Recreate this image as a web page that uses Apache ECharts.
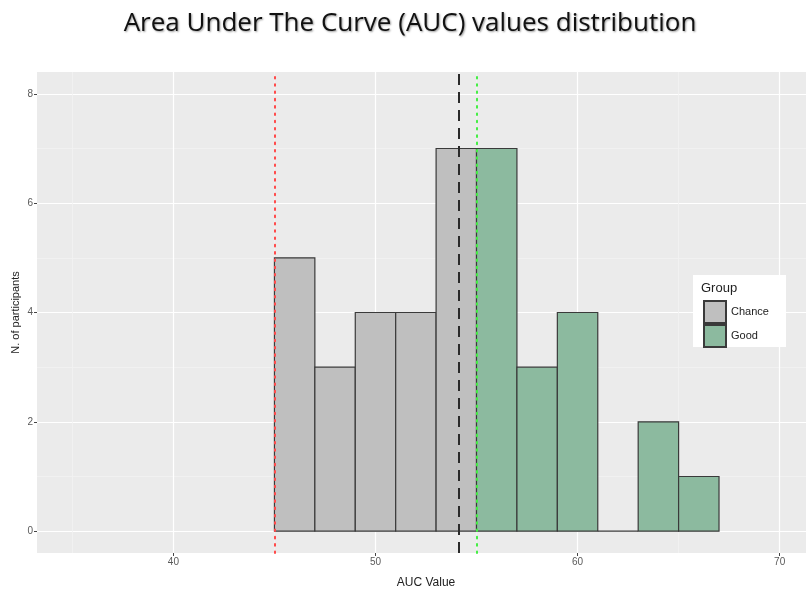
<!DOCTYPE html>
<html><head><meta charset="utf-8">
<script src="https://cdn.jsdelivr.net/npm/echarts@6/dist/echarts.min.js"></script>
<style>html,body{margin:0;padding:0;background:#fff}#c{width:806px;height:590px}</style>
</head><body><div id="c"></div>
<script>
const titleText = 'Area Under The Curve (AUC) values distribution';
const xName = 'AUC Value';
const yName = 'N. of participants';
const legendTitle = 'Group';
const groupNames = ['Chance', 'Good'];
const binWidth = 2;
const chanceBins = [45, 47, 49, 51, 53];
const chanceCounts = [5, 3, 4, 4, 7];
const goodBins = [55, 57, 59, 61, 63, 65];
const goodCounts = [7, 3, 4, 0, 2, 1];
const xTicks = [40, 50, 60, 70];
const xMinorTicks = [35, 45, 55, 65];
const yTicks = [0, 2, 4, 6, 8];
const yMinorTicks = [1, 3, 5, 7];
const chanceLine = 45;
const meanLine = 54.13;
const goodLine = 55;

const chanceColor = '#bfbfbf';
const goodColor = '#8cba9f';
const barStroke = '#3a3a3a';

function makeRender(color) {
  return function (params, api) {
    const x0 = api.value(0), h = api.value(1);
    const p0 = api.coord([x0, h]);
    const p1 = api.coord([x0 + binWidth, 0]);
    return {
      type: 'rect',
      shape: { x: p0[0], y: p0[1], width: p1[0] - p0[0], height: p1[1] - p0[1] },
      style: { fill: color, stroke: barStroke, lineWidth: 1.2 }
    };
  };
}

const chart = echarts.init(document.getElementById('c'), null, { renderer: 'canvas' });
const labelStyle = { color: '#5a5a5a', fontSize: 10, fontFamily: 'Liberation Sans' };
chart.setOption({
  animation: false,
  backgroundColor: '#ffffff',
  grid: { left: 37, top: 72, right: -9, bottom: 37, show: true, backgroundColor: '#ebebeb', borderWidth: 0, outerBoundsMode: 'none', containLabel: false },
  xAxis: [{
    type: 'value', min: 33.25, max: 71.75,
    axisLine: { show: false, onZero: false },
    axisTick: { show: true, length: 3, lineStyle: { color: '#444' }, customValues: xTicks },
    axisLabel: { ...labelStyle, margin: 4, customValues: xTicks },
    splitLine: { show: true, lineStyle: { color: '#ffffff', width: 1.2 } },
    name: xName, nameLocation: 'middle', nameGap: 24,
    nameTextStyle: { fontSize: 12, color: '#222', fontFamily: 'Liberation Sans' }
  }, {
    type: 'value', min: 33.25, max: 71.75, position: 'bottom',
    axisLine: { show: false, onZero: false },
    axisTick: { show: false, customValues: xMinorTicks },
    axisLabel: { show: false, customValues: xMinorTicks },
    splitLine: { show: true, lineStyle: { color: '#f3f3f3', width: 0.8 } }
  }],
  yAxis: [{
    type: 'value', min: -0.4, max: 8.4,
    axisLine: { show: false, onZero: false },
    axisTick: { show: true, length: 3, lineStyle: { color: '#444' }, customValues: yTicks },
    axisLabel: { ...labelStyle, margin: 4, customValues: yTicks },
    splitLine: { show: true, lineStyle: { color: '#ffffff', width: 1.2 } },
    name: yName, nameLocation: 'middle', nameGap: 16, nameRotate: 90, nameMoveOverlap: false,
    nameTextStyle: { fontSize: 11, color: '#222', fontFamily: 'Liberation Sans' }
  }, {
    type: 'value', min: -0.4, max: 8.4, position: 'left',
    axisLine: { show: false, onZero: false },
    axisTick: { show: false, customValues: yMinorTicks },
    axisLabel: { show: false, customValues: yMinorTicks },
    splitLine: { show: true, lineStyle: { color: '#f3f3f3', width: 0.8 } }
  }],
  legend: {
    orient: 'vertical', left: 703, top: 300, itemWidth: 22, itemHeight: 22, itemGap: 0,
    padding: 0, icon: 'rect', z: 6,
    textStyle: { fontSize: 11, color: '#222', fontFamily: 'Liberation Sans' },
    data: groupNames
  },
  graphic: [
    { type: 'rect', z: 5, shape: { x: 693, y: 275, width: 93, height: 72 }, style: { fill: '#ffffff' } },
    { type: 'text', z: 6, x: 701, y: 288, style: { text: legendTitle, fontSize: 13, fill: '#222', fontFamily: 'Liberation Sans', verticalAlign: 'middle' } },
    { type: 'text', z: 6, x: 410, y: 24, style: { text: titleText, fontSize: 26, fill: '#111', fontFamily: 'Open Sans', align: 'center', verticalAlign: 'middle', textShadowColor: 'rgba(0,0,0,0.4)', textShadowBlur: 2, textShadowOffsetX: 1, textShadowOffsetY: 1 } }
  ],
  series: [{
    name: groupNames[0], type: 'custom', xAxisIndex: 0, yAxisIndex: 0, z: 2,
    itemStyle: { color: chanceColor, borderColor: barStroke, borderWidth: 1.5 },
    renderItem: makeRender(chanceColor),
    data: chanceBins.map((b, i) => [b, chanceCounts[i]])
  }, {
    name: groupNames[1], type: 'custom', xAxisIndex: 0, yAxisIndex: 0, z: 2,
    itemStyle: { color: goodColor, borderColor: barStroke, borderWidth: 1.5 },
    renderItem: makeRender(goodColor),
    data: goodBins.map((b, i) => [b, goodCounts[i]])
  }, {
    name: 'lines', type: 'line', xAxisIndex: 0, yAxisIndex: 0, z: 3, data: [],
    markLine: {
      silent: true, symbol: 'none', label: { show: false },
      data: [
        { xAxis: chanceLine, lineStyle: { color: '#ff4a4a', width: 2, type: [1.6, 5.7], cap: 'round' } },
        { xAxis: meanLine, lineStyle: { color: '#2a2a2a', width: 2, type: [11, 7] } },
        { xAxis: goodLine, lineStyle: { color: '#44ee44', width: 2, type: [1.6, 5.7], cap: 'round' } }
      ]
    }
  }]
});
</script></body></html>
